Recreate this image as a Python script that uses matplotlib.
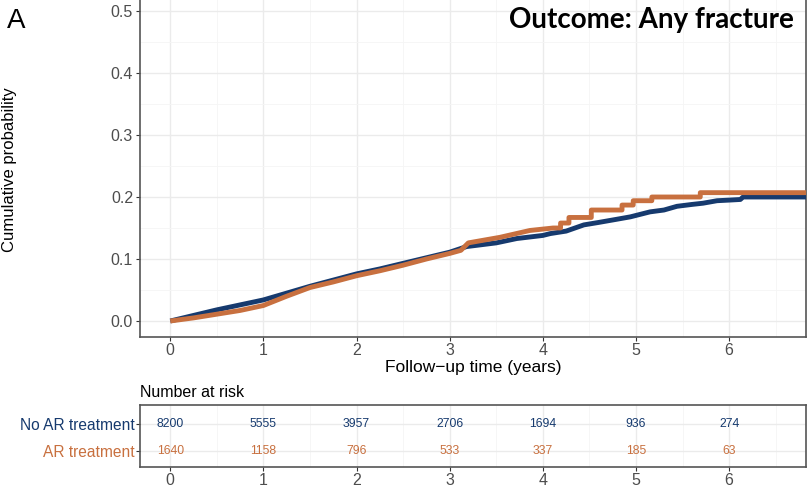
import matplotlib
matplotlib.use("Agg")
import matplotlib.pyplot as plt
from matplotlib.ticker import MultipleLocator

# ---------------- data ----------------
noar_t = [0, 0.25, 0.5, 0.75, 1.0, 1.25, 1.5, 1.75, 2.0, 2.25, 2.5, 2.75, 3.0,
          3.18, 3.5, 3.72, 4.0, 4.08, 4.25, 4.44, 4.6, 4.79, 4.94, 5.15, 5.3,
          5.44, 5.6, 5.72, 5.87, 6.0, 6.12, 6.15, 6.825]
noar_p = [0, 0.009, 0.018, 0.026, 0.034, 0.045, 0.056, 0.066, 0.076, 0.084, 0.093, 0.102, 0.111,
          0.120, 0.126, 0.133, 0.138, 0.141, 0.145, 0.155, 0.159, 0.164, 0.168, 0.176, 0.179,
          0.185, 0.188, 0.190, 0.194, 0.195, 0.196, 0.200, 0.200]

ar_t = [0, 0.25, 0.5, 0.75, 1.0, 1.25, 1.5, 1.75, 2.0, 2.25, 2.5, 2.75, 3.0,
        3.12, 3.2, 3.54, 3.86, 4.11, 4.19, 4.19, 4.28, 4.28, 4.52, 4.52, 4.85, 4.85,
        4.97, 4.97, 5.17, 5.17, 5.69, 5.69, 6.825]
ar_p = [0, 0.005, 0.011, 0.017, 0.025, 0.040, 0.054, 0.063, 0.073, 0.081, 0.090, 0.100, 0.109,
        0.114, 0.126, 0.135, 0.146, 0.150, 0.150, 0.158, 0.158, 0.167, 0.167, 0.179, 0.179, 0.187,
        0.187, 0.194, 0.194, 0.200, 0.200, 0.207, 0.207]

risk_times = [0, 1, 2, 3, 4, 5, 6]
risk_noar = [8200, 5555, 3957, 2706, 1694, 936, 274]
risk_ar = [1640, 1158, 796, 533, 337, 185, 63]
group_labels = ["No AR treatment", "AR treatment"]

NAVY = "#163A6E"
ORANGE = "#C8703F"
GRID_MAJ = "#EBEBEB"
GRID_MIN = "#F5F5F5"
SPINE = "#555555"

plt.rcParams["font.family"] = ["Liberation Sans", "DejaVu Sans"]

W, H = 808, 490
fig = plt.figure(figsize=(W / 100, H / 100), dpi=100)

def box(l, t, r, b):
    return [l / W, 1 - b / H, (r - l) / W, (b - t) / H]

# ---------------- main panel ----------------
ax = fig.add_axes(box(140, -4.5, 806, 336.5))
ax.set_xlim(-0.325, 6.825)
ax.set_ylim(-0.025, 0.525)
ax.xaxis.set_major_locator(MultipleLocator(1))
ax.xaxis.set_minor_locator(MultipleLocator(0.5))
ax.yaxis.set_major_locator(MultipleLocator(0.1))
ax.yaxis.set_minor_locator(MultipleLocator(0.05))
ax.grid(which="major", color=GRID_MAJ, lw=1.0)
ax.grid(which="minor", color=GRID_MIN, lw=0.6)
ax.set_axisbelow(True)
ax.tick_params(which="minor", length=0)
ax.tick_params(which="major", length=3, width=0.8, color="#333333",
               labelsize=11.5, labelcolor="#4D4D4D", pad=2)
ax.set_yticks([0, 0.1, 0.2, 0.3, 0.4, 0.5])
ax.set_yticklabels(["0.0", "0.1", "0.2", "0.3", "0.4", "0.5"])
for s in ax.spines.values():
    s.set_color(SPINE)
    s.set_linewidth(1.2)

ax.plot(noar_t, noar_p, color=NAVY, lw=3.5, solid_capstyle="butt", zorder=3)
ax.plot(ar_t, ar_p, color=ORANGE, lw=3.5, solid_capstyle="butt", zorder=4)

ax.set_xlabel("Follow\u2212up time (years)", fontsize=12.5, labelpad=1)

fig.text(10 / W, 1 - 170 / H, "Cumulative probability", rotation=90,
         ha="center", va="center", fontsize=12)
fig.text(7 / W, 1 - 21 / H, "A", ha="left", va="center", fontsize=20)
fig.text(794 / W, 1 - 20 / H, "Outcome: Any fracture", ha="right", va="center",
         fontsize=20, fontweight="bold", family=["Lato", "DejaVu Sans"])

# ---------------- risk table ----------------
at = fig.add_axes(box(140, 405, 806, 467))
at.set_xlim(-0.325, 6.825)
at.set_ylim(0.41, 2.70)
at.set_xticks(risk_times)
at.xaxis.set_minor_locator(MultipleLocator(0.5))
at.set_yticks([2, 1])
at.set_yticklabels(group_labels)
for lbl, c in zip(at.get_yticklabels(), [NAVY, ORANGE]):
    lbl.set_color(c)
at.grid(which="major", color=GRID_MAJ, lw=1.0)
at.grid(which="minor", axis="x", color=GRID_MIN, lw=0.6)
at.set_axisbelow(True)
at.tick_params(which="minor", length=0)
at.tick_params(axis="x", which="major", length=3, width=0.8, color="#333333",
               labelsize=11.5, labelcolor="#4D4D4D", pad=1)
at.tick_params(axis="y", which="major", length=3, width=0.8, color="#333333",
               labelsize=11.2, pad=1)
for s in at.spines.values():
    s.set_color(SPINE)
    s.set_linewidth(1.2)

for t, n1, n2 in zip(risk_times, risk_noar, risk_ar):
    at.text(t, 2, str(n1), ha="center", va="center", fontsize=8.8, color=NAVY)
    at.text(t, 1, str(n2), ha="center", va="center", fontsize=8.8, color=ORANGE)

fig.text(140 / W, 1 - 392 / H, "Number at risk", ha="left", va="center", fontsize=11.5)

fig.savefig("out.png", dpi=100)
